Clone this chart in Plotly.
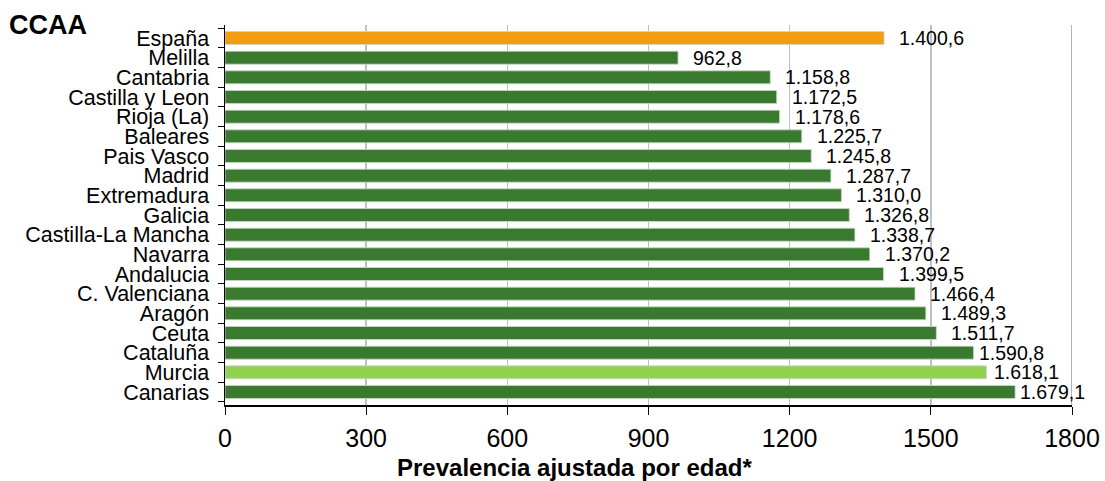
import plotly.graph_objects as go

regions = ["España", "Melilla", "Cantabria", "Castilla y Leon", "Rioja (La)", "Baleares",
           "Pais Vasco", "Madrid", "Extremadura", "Galicia", "Castilla-La Mancha", "Navarra",
           "Andalucia", "C. Valenciana", "Aragón", "Ceuta", "Cataluña", "Murcia", "Canarias"]
values = [1400.6, 962.8, 1158.8, 1172.5, 1178.6, 1225.7, 1245.8, 1287.7, 1310.0, 1326.8,
          1338.7, 1370.2, 1399.5, 1466.4, 1489.3, 1511.7, 1590.8, 1618.1, 1679.1]
x_ticks = [0, 300, 600, 900, 1200, 1500, 1800]

DARK = "#3A7A2F"
LIGHT = "#92D050"
ORANGE = "#F39C12"
colors = [ORANGE if r == "España" else LIGHT if r == "Murcia" else DARK for r in regions]


def fmt(v):
    s = f"{v:,.1f}"
    return s.replace(",", "X").replace(".", ",").replace("X", ".")


fig = go.Figure()
fig.add_trace(go.Bar(
    y=regions, x=values, orientation="h",
    marker=dict(color=colors, line=dict(color="rgba(200,220,200,0.8)", width=1)),
    width=0.66, hoverinfo="skip",
))

font_family = "Liberation Sans, Arial, sans-serif"
near_edge = {"Cataluña": 3, "Murcia": 6, "Canarias": 3}
for r, v in zip(regions, values):
    fig.add_annotation(x=v, y=r, text=fmt(v), showarrow=False, xanchor="left",
                       xshift=near_edge.get(r, 13), yshift=0,
                       font=dict(size=19.5, color="#000", family=font_family))

fig.add_shape(type="line", xref="x", yref="paper", x0=1800, x1=1800, y0=0, y1=1,
              line=dict(color="#999999", width=1.5))

fig.add_annotation(xref="paper", yref="paper", x=(574 - 225) / 847, y=-(467 - 405) / 380,
                   text="<b>Prevalencia ajustada por edad*</b>", showarrow=False,
                   xanchor="center", yanchor="middle",
                   font=dict(size=24, color="#000", family=font_family))
fig.add_annotation(xref="paper", yref="paper", x=-(225 - 7) / 847, y=1 + 0 / 380,
                   text="<b>CCAA</b>", showarrow=False, xanchor="left", yanchor="middle",
                   font=dict(size=27, color="#000", family=font_family))

fig.update_layout(
    width=1105, height=481,
    margin=dict(l=225, r=33, t=25, b=76),
    paper_bgcolor="white", plot_bgcolor="white",
    showlegend=False, bargap=0.32,
    font=dict(family=font_family, color="#000"),
    xaxis=dict(range=[0, 1800], tickmode="array", tickvals=x_ticks,
               ticktext=[str(t) for t in x_ticks],
               showgrid=True, gridcolor="#C0C0C0", gridwidth=1.5,
               showline=True, linecolor="#000", linewidth=1.5,
               ticks="outside", ticklen=8, tickcolor="#000", ticklabelstandoff=2,
               tickfont=dict(size=25, family=font_family, color="#000"),
               zeroline=False, fixedrange=True, automargin=False),
    yaxis=dict(autorange="reversed", type="category", tickmode="array", tickvals=regions,
               showline=True, linecolor="#000",
               linewidth=1.5, ticks="outside", tickson="boundaries", ticklen=6,
               tickcolor="#000", ticklabelstandoff=10,
               tickfont=dict(size=21.5, family=font_family, color="#000"),
               showgrid=False, fixedrange=True, automargin=False),
)

fig.write_html("out.html", config={"displayModeBar": False, "staticPlot": True},
               post_script="document.body.style.margin='0';document.body.style.overflow='hidden';")
